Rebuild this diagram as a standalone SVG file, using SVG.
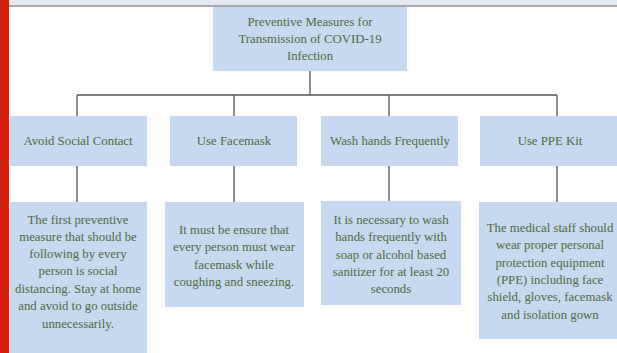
<svg xmlns="http://www.w3.org/2000/svg" width="617" height="353" viewBox="0 0 617 353">
<style>
.box{fill:#c6d9f0;}
.t{font-family:'Liberation Serif','Times New Roman',serif;font-size:12.8px;fill:#4d6a40;text-anchor:middle;}
.c{stroke:#555;stroke-width:1.3;fill:none;}
</style>
<rect x="0" y="0" width="617" height="353" fill="#ffffff"/>
<rect x="0" y="0" width="617" height="5" fill="#e3e9f1"/>
<rect x="0" y="5" width="617" height="2" fill="#a9a9ab"/>
<rect x="0" y="0" width="9" height="353" fill="#d3200f"/>
<g id="connectors">
<path class="c" d="M310,71V95M77,95H557M77,95V116M234,95V116M389,95V116M557,95V116"/>
<path class="c" d="M77,166V202M234,166V202M389,166V201M557,166V202"/>
</g>
<g id="root">
<rect class="box" x="213" y="7" width="194" height="64"/>
<text class="t" x="310" y="26">Preventive Measures for</text>
<text class="t" x="310" y="43">Transmission of COVID-19</text>
<text class="t" x="310" y="60">Infection</text>
</g>
<g id="n1">
<rect class="box" x="10" y="116" width="137" height="50"/>
<text class="t" x="78" y="145">Avoid Social Contact</text>
</g>
<g id="n2">
<rect class="box" x="170" y="116" width="127" height="50"/>
<text class="t" x="234" y="145">Use Facemask</text>
</g>
<g id="n3">
<rect class="box" x="321" y="116" width="137" height="50"/>
<text class="t" x="390" y="145">Wash hands Frequently</text>
</g>
<g id="n4">
<rect class="box" x="480" y="116" width="137" height="50"/>
<text class="t" x="550" y="145">Use PPE Kit</text>
</g>
<g id="d1">
<rect class="box" x="10" y="202" width="137" height="151"/>
<text class="t" x="78" y="224">The first preventive</text>
<text class="t" x="78" y="241">measure that should be</text>
<text class="t" x="78" y="258">following by every</text>
<text class="t" x="78" y="275">person is social</text>
<text class="t" x="78" y="293">distancing. Stay at home</text>
<text class="t" x="78" y="310">and avoid to go outside</text>
<text class="t" x="78" y="328">unnecessarily.</text>
</g>
<g id="d2">
<rect class="box" x="165" y="202" width="139" height="105"/>
<text class="t" x="234" y="234">It must be ensure that</text>
<text class="t" x="234" y="251">every person must wear</text>
<text class="t" x="234" y="269">facemask while</text>
<text class="t" x="234" y="286">coughing and sneezing.</text>
</g>
<g id="d3">
<rect class="box" x="321" y="201" width="140" height="104"/>
<text class="t" x="391" y="224">It is necessary to wash</text>
<text class="t" x="391" y="241">hands frequently with</text>
<text class="t" x="391" y="259">soap or alcohol based</text>
<text class="t" x="391" y="276">sanitizer for at least 20</text>
<text class="t" x="391" y="293">seconds</text>
</g>
<g id="d4">
<rect class="box" x="479" y="202" width="138" height="137"/>
<text class="t" x="550" y="232">The medical staff should</text>
<text class="t" x="550" y="249">wear proper personal</text>
<text class="t" x="550" y="267">protection equipment</text>
<text class="t" x="550" y="284">(PPE) including face</text>
<text class="t" x="550" y="301">shield, gloves, facemask</text>
<text class="t" x="550" y="319">and isolation gown</text>
</g>
</svg>
